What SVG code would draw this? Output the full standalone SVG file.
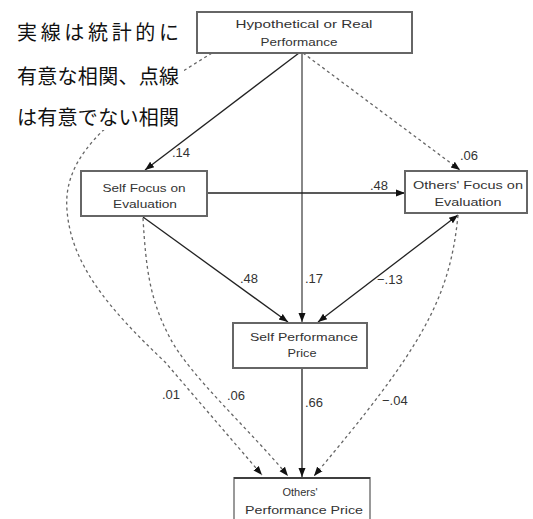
<svg xmlns="http://www.w3.org/2000/svg" width="533" height="519" viewBox="0 0 533 519">
<style>
.box{fill:#fff;stroke:#666;stroke-width:2}
.bt{font-family:"Liberation Sans",Arial,sans-serif;font-size:11px;fill:#333;text-anchor:middle}
.num{font-family:"Liberation Sans",Arial,sans-serif;font-size:13px;fill:#333}
.sol{fill:none;stroke:#222;stroke-width:1.3}
.dash{fill:none;stroke:#666;stroke-width:1.3;stroke-dasharray:3 3}
.jp{font-family:"Noto Sans CJK JP","Noto Sans CJK SC",sans-serif;font-size:20px;fill:#111}
</style>
<defs>
<marker id="ah" markerUnits="userSpaceOnUse" markerWidth="10" markerHeight="10" viewBox="0 0 10 10" refX="9" refY="5" orient="auto-start-reverse">
<path d="M0,1.5 L9,5 L0,8.5 Z" fill="#111"/>
</marker>
</defs>
<rect width="533" height="519" fill="#fff"/>
<g id="connectors">
<path class="dash" d="M212,53 C120,110 62,150 67,210 C71,265 110,310 165,362 L262,475" marker-end="url(#ah)"/>
<path class="sol" d="M299,53 L145,170" marker-end="url(#ah)"/>
<path class="dash" d="M303,53 L460,170" marker-end="url(#ah)"/>
<path d="M302,53 L302,322" fill="none" stroke="#888" stroke-width="2" marker-end="url(#ah)"/>
<path class="sol" d="M207,193 L405,193" marker-end="url(#ah)"/>
<path class="sol" d="M143,217 L288,322" marker-end="url(#ah)"/>
<path class="sol" d="M318,322 L458,215" marker-start="url(#ah)" marker-end="url(#ah)"/>
<path class="sol" d="M302,368 L302,477" marker-end="url(#ah)"/>
<path class="dash" d="M143,218 C146,270 150,300 170,338 S250,430 288,476" marker-end="url(#ah)"/>
<path class="dash" d="M458,215 C450,300 420,350 314,476" marker-end="url(#ah)"/>
</g>
<g id="legend">
<rect x="14" y="18" width="170" height="112" fill="#fff"/>
<text class="jp" x="17" y="40" textLength="162" lengthAdjust="spacing">実線は統計的に</text>
<text class="jp" x="17" y="84" textLength="162" lengthAdjust="spacing">有意な相関、点線</text>
<text class="jp" x="17" y="125" textLength="162" lengthAdjust="spacing">は有意でない相関</text>
</g>
<g id="n_perf">
<rect class="box" x="197" y="12" width="215" height="41" stroke="#555"/>
<text class="bt" x="304" y="28" textLength="137" lengthAdjust="spacingAndGlyphs">Hypothetical or Real</text>
<text class="bt" x="299" y="46" textLength="77" lengthAdjust="spacingAndGlyphs">Performance</text>
</g>
<g id="n_self_focus">
<rect class="box" x="81" y="171" width="126" height="45"/>
<text class="bt" x="144" y="192" textLength="83" lengthAdjust="spacingAndGlyphs">Self Focus on</text>
<text class="bt" x="145" y="208" textLength="64" lengthAdjust="spacingAndGlyphs">Evaluation</text>
</g>
<g id="n_others_focus">
<rect class="box" x="405" y="171" width="122" height="42"/>
<text class="bt" x="468" y="189" textLength="110" lengthAdjust="spacingAndGlyphs">Others' Focus on</text>
<text class="bt" x="468" y="206" textLength="67" lengthAdjust="spacingAndGlyphs">Evaluation</text>
</g>
<g id="n_self_price">
<rect class="box" x="233" y="323" width="134" height="45"/>
<text class="bt" x="304" y="341" textLength="108" lengthAdjust="spacingAndGlyphs">Self Performance</text>
<text class="bt" x="302" y="357" textLength="29" lengthAdjust="spacingAndGlyphs">Price</text>
</g>
<g id="n_others_price">
<rect x="234" y="478" width="136" height="50" fill="#fff" stroke="#999" stroke-width="2"/>
<line x1="234" y1="478" x2="370" y2="478" stroke="#222" stroke-width="1.5"/>
<text class="bt" x="300" y="496">Others'</text>
<text class="bt" x="304" y="514" textLength="118" lengthAdjust="spacingAndGlyphs">Performance Price</text>
</g>
<g id="labels">
<text class="num" x="172" y="157">.14</text>
<text class="num" x="460" y="160">.06</text>
<text class="num" x="388" y="190" text-anchor="end">.48</text>
<text class="num" x="240" y="283">.48</text>
<text class="num" x="305" y="283">.17</text>
<text class="num" x="377" y="284">−.13</text>
<text class="num" x="162" y="399">.01</text>
<text class="num" x="227" y="400">.06</text>
<text class="num" x="305" y="407">.66</text>
<text class="num" x="382" y="405">−.04</text>
</g>
</svg>
